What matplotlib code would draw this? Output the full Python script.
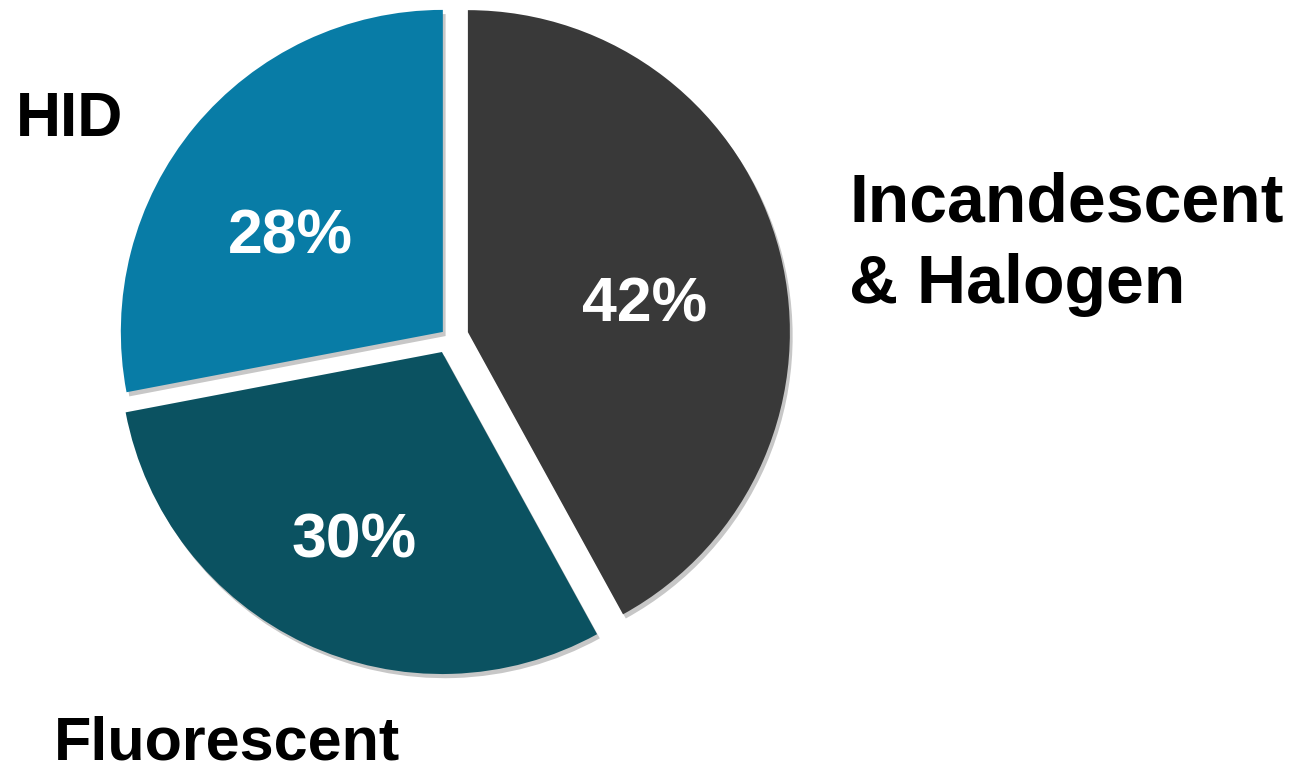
import matplotlib
matplotlib.use("Agg")
import matplotlib.pyplot as plt
import matplotlib.patheffects as pe

# Data
categories = ["Incandescent\n& Halogen", "Fluorescent", "HID"]
shares = [42, 30, 28]
pct_labels = ["42%", "30%", "28%"]
colors = ["#393939", "#0b5261", "#087ca6"]

W, H = 1305, 764
fig = plt.figure(figsize=(W / 100, H / 100), dpi=100)
ax = fig.add_axes([0, 0, 1, 1])

def py(y):
    return H - y

wedges, _ = ax.pie(
    shares,
    colors=colors,
    startangle=90,
    counterclock=False,
    center=(449, py(337)),
    radius=322,
    explode=[19.5, 16.6, 8],
    wedgeprops=dict(linewidth=0),
)
for w in wedges:
    w.set_path_effects([
        pe.SimplePatchShadow(offset=(2, -3), shadow_rgbFace="black", alpha=0.22),
        pe.Normal(),
    ])

ax.set_xlim(0, W)
ax.set_ylim(0, H)
ax.set_aspect("equal")
ax.axis("off")

font = "Liberation Sans"

# percentage labels (white, inside)
pct_pos = [(645, 322), (354, 557), (290, 254)]
for lab, (x, y) in zip(pct_labels, pct_pos):
    ax.text(x, py(y), lab, color="white", fontsize=45, fontweight="bold",
            family=font, ha="center", va="baseline")

# category labels (black, outside)
ax.text(849, py(222), categories[0].split("\n")[0], color="black", fontsize=49,
        fontweight="bold", family=font, ha="left", va="baseline")
ax.text(849, py(303), categories[0].split("\n")[1], color="black", fontsize=49,
        fontweight="bold", family=font, ha="left", va="baseline")
ax.text(54, py(759), categories[1], color="black", fontsize=44,
        fontweight="bold", family=font, ha="left", va="baseline")
ax.text(16, py(136), categories[2], color="black", fontsize=45,
        fontweight="bold", family=font, ha="left", va="baseline")

fig.savefig("out.png", dpi=100, facecolor="white")
